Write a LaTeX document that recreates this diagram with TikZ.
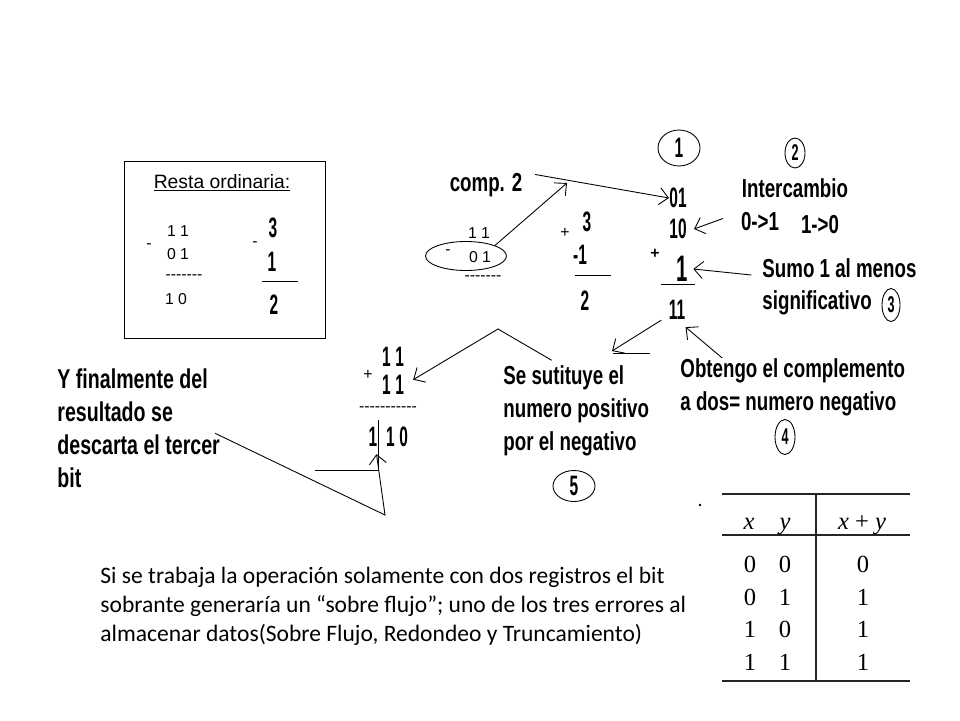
\documentclass[tikz,border=0pt]{standalone}
\usepackage{fontspec}
\setmainfont{Carlito}
\newfontfamily\arialfont{Liberation Sans}
\newfontfamily\handfont[FakeStretch=0.72]{Liberation Sans}
\newfontfamily\numfont[FakeStretch=0.55]{Liberation Sans}
\newfontfamily\tabfont{Liberation Serif}
\usetikzlibrary{arrows.meta,shapes.geometric}

\begin{document}
\begin{tikzpicture}[
  x=0.02cm, y=-0.02cm,
  line width=0.5pt,
  hand/.style={font=\handfont\bfseries\fontsize{14.8}{18.7}\selectfont, align=left, inner sep=0pt},
  num/.style={font=\numfont\bfseries\fontsize{16}{18}\selectfont, inner sep=0pt},
  small/.style={font=\arialfont\fontsize{9}{11}\selectfont, inner sep=0pt},
  ring/.style={draw, ellipse, inner sep=0pt},
  tab/.style={font=\tabfont\fontsize{14}{16}\selectfont, inner sep=0pt, anchor=base},
  arr/.style={-{Straight Barb[length=1.8mm,width=3.4mm]}},
  rule/.style={line width=1pt, black!85}
]
  \useasboundingbox (0,0) rectangle (960,720);

  % resta ordinaria
  \draw (124,161) rectangle (325,338);
  \node[font=\arialfont\fontsize{11}{13}\selectfont, inner sep=0pt] (title) at (222,183) {\underline{Resta ordinaria:}};
  \node[small] (a11) at (178,231) {1 1};
  \node[small] (aminus) at (149,246) {-};
  \node[small] (a01) at (178,254) {0 1};
  \node[small] (adash) at (184,277) {-{}-{}-{}-{}-{}-{}-};
  \node[small] (a10) at (176,299) {1 0};
  \node[num] (d3) at (273,228) {3};
  \node[small] (dminus) at (255,244) {-};
  \node[num] (d1) at (272,262) {1};
  \draw (262,281) -- (298,281);
  \node[num] (d2) at (274,305) {2};

  % complemento a dos
  \node[hand] (comp) at (486,185) {comp. 2};
  \node[small] (b11) at (479,233) {1 1};
  \node[small] (bminus) at (448,252) {-};
  \node[small] (b01) at (480,257) {0 1};
  \node[ring, minimum width=1.62cm, minimum height=0.58cm] (sub) at (466,256) {};
  \node[small] (bdash) at (483,278) {-{}-{}-{}-{}-{}-{}-};
  \node[small] (plusA) at (565,233) {+};
  \node[num] (e3) at (587,222) {3};
  \node[num] (e1) at (580,255) {-1};
  \draw (575,275) -- (611,275);
  \node[num] (e2) at (585,301) {2};

  \node[ring, num, minimum width=0.84cm, minimum height=0.72cm] (one) at (679,148) {1};
  \node[num] (n01) at (678,198) {01};
  \node[num] (n10) at (678,229) {10};
  \node[small, font=\arialfont\bfseries\fontsize{9}{11}\selectfont] (plusB) at (655,254) {+};
  \node[num, font=\numfont\bfseries\fontsize{21}{22}\selectfont] (n1) at (682,269) {1};
  \draw (661,284) -- (695,284);
  \node[num] (n11) at (677,310) {11};

  \node[ring, num, font=\numfont\bfseries\fontsize{13}{14}\selectfont, minimum width=0.4cm, minimum height=0.6cm] (two) at (795,153) {2};
  \node[hand] (inter) at (795,188) {Intercambio};
  \node[hand] (swapA) at (760,222) {0->1};
  \node[hand] (swapB) at (820,225) {1->0};
  \node[hand, anchor=west] (sumo) at (762,268) {Sumo 1 al menos};
  \node[hand, anchor=west] (signif) at (762,303) {significativo};
  \node[ring, num, font=\numfont\bfseries\fontsize{13}{14}\selectfont, minimum width=0.36cm, minimum height=0.66cm] (three) at (891,305) {3};

  \node[hand, anchor=west] (obt) at (680,387) {Obtengo el complemento\\a dos= numero negativo};
  \node[ring, num, font=\numfont\bfseries\fontsize{13}{14}\selectfont, minimum width=0.4cm, minimum height=0.7cm] (four) at (785,437) {4};

  \node[hand, anchor=west] (sust) at (503,411) {Se sutituye el\\numero positivo\\por el negativo};
  \node[ring, num, minimum width=0.84cm, minimum height=0.62cm] (five) at (574,486) {5};

  % suma final
  \node[num] (c11a) at (393,357) {1\,1};
  \node[small] (plusC) at (368,375) {+};
  \node[num] (c11b) at (393,385) {1\,1};
  \node[small] (cdash) at (388,409) {-{}-{}-{}-{}-{}-{}-{}-{}-{}-{}-};
  \node[num] (bit3) at (373,437) {1};
  \node[num] (c10) at (397,437) {1\,0};
  \draw (378,420) -- (378,470) -- (315,470);

  \node[hand, anchor=west, font=\handfont\bfseries\fontsize{15.5}{18.7}\selectfont] (fin) at (57,428) {Y finalmente del\\resultado se\\descarta el tercer\\bit};

  \coordinate (hit) at (567,183);
  \coordinate (drop) at (612,351);
  \coordinate (peak) at (498,329);
  \coordinate (low) at (385,515);

  \draw[arr] ([xshift=7pt,yshift=6pt]comp.east) -- (n01.west);
  \draw[arr] (sub.20) -- (hit);
  \draw[arr] ([xshift=-10pt,yshift=2pt]swapA.west) -- ([xshift=4pt]n10.east);
  \draw[arr] ([xshift=-6pt,yshift=-4pt]sumo.west) -- ([xshift=3pt]n1.east);
  \draw[arr] ([xshift=-4pt]n11.south west) -- (drop);
  \draw (drop) ++(1,2) -- ++(37,0);
  \draw[arr] ([xshift=24pt]obt.north west) -- ([yshift=-4pt]n11.south east);
  \draw[arr] ([xshift=-14pt,yshift=3pt]sust.north) -- (peak) -- ([xshift=5pt,yshift=3pt]c11b.east);
  \draw[arr] ([xshift=-3pt,yshift=-3pt]fin.east) -- (low) -- ([xshift=2pt,yshift=-4pt]bit3.south);

  % tabla
  \draw[rule] (722,494) -- (910,494);
  \draw[rule] (722,535) -- (910,535);
  \draw[rule] (722,681) -- (910,681);
  \draw[rule] (816,494) -- (816,681);
  \fill (700,505) circle (0.8pt);
  \node[tab] (hx) at (749,529) {\itshape x};
  \node[tab] (hy) at (785,529) {\itshape y};
  \node[tab] (hs) at (862,529) {{\itshape x} + {\itshape y}};
  \foreach \r/\a/\b/\s [count=\i] in {572/0/0/0, 605/0/1/1, 637/1/0/1, 670/1/1/1} {
    \node[tab] (x\i) at (750,\r) {\a};
    \node[tab] (y\i) at (785,\r) {\b};
    \node[tab] (s\i) at (863,\r) {\s};
  }

  \node[anchor=west, align=left, inner sep=0pt, font=\fontsize{13.4}{16.5}\selectfont] (note) at (100,606)
    {Si se trabaja la operación solamente con dos registros el bit\\
     sobrante generaría un “sobre flujo”; uno de los tres errores al\\
     almacenar datos(Sobre Flujo, Redondeo y Truncamiento)};
\end{tikzpicture}
\end{document}
